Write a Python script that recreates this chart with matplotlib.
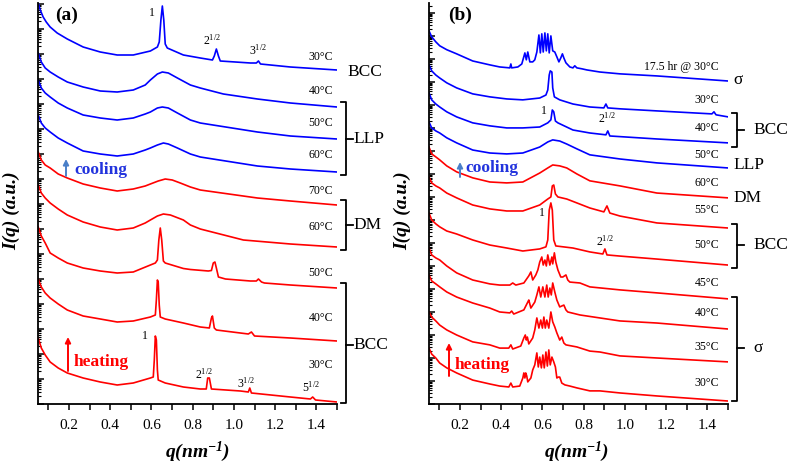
import numpy as np
import matplotlib
matplotlib.use('Agg')
import matplotlib.pyplot as plt
from matplotlib.ticker import LogLocator, NullFormatter, MultipleLocator, FixedFormatter, FixedLocator
from matplotlib.lines import Line2D
from matplotlib.patches import FancyArrowPatch

plt.rcParams['font.family'] = ['Liberation Serif', 'DejaVu Serif']
plt.rcParams['mathtext.fontset'] = 'custom'
plt.rcParams['mathtext.rm'] = 'Liberation Serif'
plt.rcParams['mathtext.it'] = 'Liberation Serif:italic'
plt.rcParams['mathtext.bf'] = 'Liberation Serif:bold:italic'
plt.rcParams['mathtext.default'] = 'regular'

# ---------------- data: q (nm^-1) and log10 I(q) (a.u., curves offset) ----------------
# Panel (a)
A1_Q = [.051,.061,.075,.090,.109,.143,.192,.269,.352,.434,.512,.595,.629,.638,.646,.653,.660,.667,.677,.755,.837,.896,.905,.915,.925,.934,1.080,1.109,1.119,1.129,1.274,1.5]
A1_L = [16.04,15.76,15.48,15.28,15.08,14.84,14.60,14.28,14.08,13.96,13.96,14.12,14.28,14.48,15.36,15.92,15.36,14.40,14.24,13.96,13.84,13.76,13.92,14.20,13.92,13.72,13.64,13.64,13.72,13.60,13.48,13.36]
A2_Q = [.051,.066,.085,.109,.148,.192,.269,.352,.434,.512,.570,.595,.629,.653,.682,.726,.789,.837,.949,1.114,1.274,1.5]
A2_L = [14.04,13.68,13.44,13.28,13.08,12.88,12.68,12.52,12.48,12.56,12.76,12.96,13.20,13.28,13.24,13.04,12.76,12.64,12.40,12.20,12.04,11.88]
A3_Q = [.051,.066,.085,.109,.148,.192,.269,.352,.434,.512,.570,.595,.629,.653,.682,.726,.789,.837,1.114,1.274,1.5]
A3_L = [12.96,12.64,12.44,12.28,12.04,11.84,11.56,11.44,11.36,11.44,11.60,11.68,11.84,11.88,11.84,11.64,11.36,11.24,10.88,10.72,10.60]
A4_Q = [.051,.066,.085,.109,.148,.192,.269,.352,.434,.512,.570,.595,.629,.658,.682,.726,.789,.837,1.114,1.274,1.5]
A4_L = [11.56,11.24,11.04,10.88,10.64,10.44,10.12,10.00,9.92,10.00,10.16,10.24,10.36,10.44,10.40,10.24,10.00,9.88,9.52,9.40,9.28]
A5_Q = [.051,.066,.085,.109,.148,.192,.269,.352,.434,.512,.570,.595,.633,.667,.701,.740,.789,.837,1.114,1.274,1.5]
A5_L = [10.08,9.76,9.56,9.44,9.20,9.04,8.80,8.64,8.52,8.60,8.72,8.80,8.92,9.00,8.96,8.84,8.68,8.56,8.24,8.12,7.96]
A6_Q = [.051,.066,.085,.109,.148,.192,.269,.352,.434,.512,.570,.595,.629,.658,.692,.755,.789,.837,1.046,1.274,1.5]
A6_L = [8.76,8.44,8.24,8.04,7.80,7.56,7.28,7.08,6.96,7.04,7.24,7.36,7.52,7.60,7.56,7.36,7.16,7.00,6.56,6.40,6.28]
A7_Q = [.051,.066,.085,.109,.148,.192,.269,.352,.434,.512,.595,.619,.629,.636,.643,.650,.658,.667,.755,.789,.876,.891,.900,.908,.915,.925,.959,1.080,1.109,1.119,1.134,1.148,1.274,1.5]
A7_L = [7.08,6.72,6.44,6.04,5.84,5.64,5.44,5.32,5.24,5.28,5.56,5.64,5.76,6.56,7.04,6.56,5.72,5.64,5.42,5.38,5.32,5.34,5.64,5.68,5.44,5.08,5.00,4.92,4.92,5.00,4.88,4.84,4.76,4.64]
A8_Q = [.051,.066,.085,.109,.148,.192,.269,.352,.434,.512,.595,.619,.624,.629,.633,.638,.643,.667,.755,.837,.881,.891,.896,.905,.915,1.070,1.085,1.100,1.274,1.5]
A8_L = [5.00,4.68,4.44,4.24,4.00,3.76,3.52,3.40,3.28,3.32,3.48,3.56,4.16,4.96,4.88,3.96,3.48,3.40,3.24,3.08,3.04,3.44,3.52,3.04,2.96,2.80,2.88,2.72,2.64,2.52]
A9_Q = [.051,.066,.085,.109,.148,.192,.269,.352,.434,.512,.595,.609,.614,.619,.624,.629,.633,.667,.755,.837,.866,.873,.881,.891,1.032,1.070,1.077,1.085,1.274,1.371,1.382,1.396,1.5]
A9_L = [2.64,2.24,1.96,1.68,1.44,1.24,1.04,0.88,0.76,0.84,1.04,1.08,1.76,2.72,2.56,1.36,0.96,0.84,0.68,0.60,0.60,1.04,1.04,0.60,0.52,0.48,0.64,0.44,0.28,0.20,0.28,0.16,0.08]

# Panel (b)
B1_Q = [.05,.063,.083,.102,.136,.184,.262,.345,.393,.442,.447,.451,.481,.500,.515,.522,.529,.539,.553,.563,.573,.583,.590,.597,.604,.612,.619,.626,.633,.641,.650,.660,.670,.680,.689,.697,.704,.714,.733,.748,.757,.767,.791,.816,.879,.976,1.155,1.5]
B1_L = [16.22,15.96,15.74,15.57,15.40,15.22,14.91,14.74,14.65,14.61,14.78,14.61,14.65,14.78,15.26,14.96,15.30,14.87,14.87,14.96,15.30,16.04,15.26,16.09,15.30,16.13,15.35,16.09,15.26,16.00,15.35,15.30,15.09,14.87,15.04,15.22,15.04,14.83,14.65,14.61,14.70,14.61,14.57,14.52,14.43,14.35,14.26,14.04]
B2_Q = [.05,.063,.083,.102,.136,.184,.262,.345,.427,.505,.587,.617,.626,.633,.638,.646,.650,.658,.684,.748,.830,.898,.908,.917,.976,1.155,1.422,1.432,1.442,1.5]
B2_L = [14.74,14.48,14.30,14.17,13.96,13.74,13.48,13.35,13.26,13.22,13.30,13.43,13.65,14.30,14.48,14.43,13.74,13.35,13.22,13.04,12.91,12.87,13.04,12.87,12.83,12.74,12.61,12.70,12.57,12.48]
B3_Q = [.05,.063,.083,.102,.136,.184,.262,.345,.427,.505,.587,.626,.641,.648,.655,.663,.675,.748,.830,.908,.917,.927,1.155,1.5]
B3_L = [13.52,13.22,13.04,12.91,12.70,12.48,12.22,12.09,12.00,12.00,12.04,12.22,12.35,12.78,12.70,12.30,12.22,11.91,11.78,11.70,11.87,11.65,11.52,11.35]
B4_Q = [.05,.063,.083,.102,.136,.184,.262,.345,.427,.505,.587,.626,.650,.684,.718,.767,.830,.976,1.155,1.5]
B4_L = [12.26,12.00,11.87,11.78,11.57,11.35,11.04,10.91,10.87,10.91,11.17,11.39,11.48,11.43,11.30,11.09,10.83,10.65,10.48,10.26]
B5_Q = [.05,.063,.083,.102,.136,.184,.262,.345,.427,.505,.587,.626,.650,.684,.718,.767,.830,.976,1.155,1.5]
B5_L = [11.17,10.87,10.74,10.61,10.35,10.09,9.83,9.65,9.61,9.65,10.04,10.26,10.39,10.35,10.26,10.00,9.70,9.48,9.17,8.96]
B6_Q = [.05,.063,.083,.102,.136,.184,.262,.345,.427,.505,.587,.626,.641,.648,.655,.663,.675,.718,.767,.830,.898,.913,.927,.976,1.155,1.5]
B6_L = [9.87,9.61,9.48,9.39,9.17,8.96,8.65,8.48,8.39,8.39,8.65,8.91,9.00,9.48,9.52,9.13,9.00,8.91,8.74,8.52,8.35,8.61,8.30,8.17,7.87,7.65]
B7_Q = [.05,.063,.083,.102,.136,.184,.262,.345,.427,.505,.587,.617,.626,.633,.641,.648,.655,.665,.748,.830,.893,.903,.913,.976,1.155,1.5]
B7_L = [8.30,8.00,7.83,7.70,7.52,7.39,7.13,6.91,6.78,6.65,6.74,6.83,7.13,8.43,8.74,8.43,7.13,6.87,6.78,6.61,6.52,6.74,6.48,6.43,6.30,6.04]
B8_Q = [.05,.063,.083,.102,.136,.184,.262,.345,.393,.442,.456,.471,.510,.534,.544,.553,.568,.578,.587,.597,.604,.612,.619,.626,.636,.646,.650,.658,.665,.675,.689,.699,.714,.723,.733,.782,.830,.976,1.155,1.5]
B8_L = [6.78,6.48,6.35,6.26,6.00,5.70,5.39,5.22,5.17,5.17,5.26,5.17,5.26,5.57,5.74,5.39,5.61,5.83,6.17,6.39,6.04,6.26,6.00,6.48,6.04,6.39,6.09,6.57,6.17,5.83,5.52,5.52,5.61,5.39,5.30,5.26,5.09,4.96,4.83,4.57]
B9_Q = [.05,.063,.083,.102,.136,.184,.262,.345,.393,.442,.451,.461,.510,.529,.534,.544,.563,.573,.583,.592,.602,.612,.621,.628,.636,.643,.650,.660,.670,.684,.694,.704,.714,.723,.782,.879,.976,1.155,1.5]
B9_L = [5.61,5.35,5.22,5.09,4.87,4.65,4.39,4.17,4.00,3.96,4.04,3.91,4.09,4.43,4.52,4.17,4.43,4.74,5.09,4.65,5.09,4.65,5.17,4.65,5.04,4.74,5.26,4.87,4.52,4.22,4.26,4.30,4.09,4.00,3.87,3.74,3.61,3.52,3.26]
B10_Q = [.05,.063,.083,.102,.136,.184,.262,.345,.393,.437,.447,.456,.495,.510,.517,.522,.527,.534,.553,.563,.573,.583,.592,.600,.607,.614,.621,.631,.641,.650,.660,.670,.684,.694,.704,.714,.767,.830,.879,.976,1.155,1.5]
B10_L = [4.00,3.78,3.61,3.43,3.22,3.00,2.70,2.57,2.43,2.43,2.57,2.39,2.52,2.87,3.00,2.78,2.91,2.61,2.87,3.22,3.74,3.30,3.65,3.30,3.78,3.30,3.65,3.30,4.00,3.57,3.35,3.09,2.78,2.91,2.65,2.57,2.48,2.30,2.26,2.09,2.00,1.83]
B11_Q = [.05,.063,.083,.102,.136,.184,.262,.345,.393,.437,.447,.456,.490,.505,.510,.515,.519,.524,.529,.544,.553,.563,.573,.580,.587,.595,.602,.609,.617,.624,.631,.638,.646,.655,.663,.670,.677,.684,.694,.709,.733,.767,.830,.879,.976,1.155,1.5]
B11_L = [2.43,2.17,2.00,1.78,1.57,1.35,1.04,0.87,0.78,0.74,0.91,0.74,0.78,1.13,1.35,1.13,1.35,1.22,0.96,1.13,1.48,1.70,2.22,1.61,2.04,1.57,2.13,1.57,2.26,1.65,2.35,1.70,2.04,1.83,1.61,1.13,1.17,1.17,0.91,0.83,0.78,0.70,0.57,0.57,0.48,0.35,0.13]

A_CURVES = [(A1_Q, A1_L, 'b'), (A2_Q, A2_L, 'b'), (A3_Q, A3_L, 'b'), (A4_Q, A4_L, 'b'),
            (A5_Q, A5_L, 'r'), (A6_Q, A6_L, 'r'), (A7_Q, A7_L, 'r'), (A8_Q, A8_L, 'r'), (A9_Q, A9_L, 'r')]
B_CURVES = [(B1_Q, B1_L, 'b'), (B2_Q, B2_L, 'b'), (B3_Q, B3_L, 'b'), (B4_Q, B4_L, 'b'),
            (B5_Q, B5_L, 'r'), (B6_Q, B6_L, 'r'), (B7_Q, B7_L, 'r'), (B8_Q, B8_L, 'r'),
            (B9_Q, B9_L, 'r'), (B10_Q, B10_L, 'r'), (B11_Q, B11_L, 'r')]

A_TEMPS = ['30°C', '40°C', '50°C', '60°C', '70°C', '60°C', '50°C', '40°C', '30°C']
B_TEMPS = ['17.5 hr @ 30°C', '30°C', '40°C', '50°C', '60°C', '55°C', '50°C', '45°C', '40°C', '35°C', '30°C']
XTICKS = [0.2, 0.4, 0.6, 0.8, 1.0, 1.2, 1.4]
XTICK_LABELS = ['0.2', '0.4', '0.6', '0.8', '1.0', '1.2', '1.4']

COLORS = {'b': '#0000ff', 'r': '#ff0000'}
W, H = 789, 466

fig = plt.figure(figsize=(W / 100, H / 100), dpi=100)


def fx(x):
    return x / W


def fy(y):
    return 1 - y / H


def make_axes(left_px, right_px, ytop_dec):
    ax = fig.add_axes([fx(left_px), fy(404), (right_px - left_px) / W, (404 - 3) / H])
    ax.set_yscale('log')
    ax.set_xlim(0.05, 1.5)
    ax.set_ylim(1, 10 ** ytop_dec)
    for s in ['top', 'right']:
        ax.spines[s].set_visible(False)
    for s in ['left', 'bottom']:
        ax.spines[s].set_linewidth(1.3)
    ax.xaxis.set_major_locator(FixedLocator(XTICKS))
    ax.xaxis.set_major_formatter(FixedFormatter(XTICK_LABELS))
    ax.xaxis.set_minor_locator(MultipleLocator(0.1))
    ax.tick_params(axis='x', which='both', direction='out', length=4, width=1.1,
                   labelsize=11, pad=7)
    ax.yaxis.set_major_locator(LogLocator(base=10, numticks=100))
    ax.yaxis.set_minor_locator(LogLocator(base=10, subs=np.arange(2, 10) * 1.0, numticks=100))
    ax.yaxis.set_major_formatter(NullFormatter())
    ax.yaxis.set_minor_formatter(NullFormatter())
    ax.tick_params(axis='y', which='major', direction='in', length=4.5, width=1.1)
    ax.tick_params(axis='y', which='minor', direction='in', length=2.5, width=0.8)
    return ax


axA = make_axes(38, 337, 16.04)
axB = make_axes(429, 728, 17.43)

for q, L, c in A_CURVES:
    axA.plot(q, 10 ** np.array(L), color=COLORS[c], lw=1.2)
for q, L, c in B_CURVES:
    axB.plot(q, 10 ** np.array(L), color=COLORS[c], lw=1.2)


def ftext(x, y, s, **kw):
    fig.text(fx(x), fy(y), s, **kw)


def bracket(x, ytop, ybot, ymid, label, tx=None):
    kw = dict(color='black', lw=1.3, transform=fig.transFigure)
    fig.add_artist(Line2D([fx(x - 5), fx(x), fx(x), fx(x - 5)], [fy(ytop), fy(ytop), fy(ybot), fy(ybot)], **kw))
    fig.add_artist(Line2D([fx(x), fx(x + 7)], [fy(ymid), fy(ymid)], **kw))
    ftext(x + 7 if tx is None else tx, ymid, label, ha='left', va='center', fontsize=12.5)


def arrow(x, y0, y1, color):
    fig.add_artist(FancyArrowPatch((fx(x), fy(y0)), (fx(x), fy(y1)), transform=fig.transFigure,
                                   arrowstyle='-|>', mutation_scale=8, lw=1.4, color=color,
                                   shrinkA=0, shrinkB=0))


# temperature labels
tsize = 8.5
for s, y in zip(A_TEMPS, [57, 91, 123, 155, 191, 227, 273, 318, 365]):
    ftext(333, y, s, ha='right', va='center', fontsize=tsize)
for s, y in zip(B_TEMPS, [67, 100, 128, 155, 183, 210, 245, 283, 313, 347, 383]):
    ftext(719, y, s, ha='right', va='center', fontsize=tsize)

# peak index labels
psize = 8.5
ftext(152, 13, '1', ha='center', va='center', fontsize=psize)
ftext(212, 40, '2$^{1/2}$', ha='center', va='center', fontsize=psize)
ftext(258, 50, '3$^{1/2}$', ha='center', va='center', fontsize=psize)
ftext(145, 336, '1', ha='center', va='center', fontsize=psize)
ftext(204, 374, '2$^{1/2}$', ha='center', va='center', fontsize=psize)
ftext(246, 383, '3$^{1/2}$', ha='center', va='center', fontsize=psize)
ftext(311, 387, '5$^{1/2}$', ha='center', va='center', fontsize=psize)
ftext(544, 111, '1', ha='center', va='center', fontsize=psize)
ftext(607, 118, '2$^{1/2}$', ha='center', va='center', fontsize=psize)
ftext(542, 213, '1', ha='center', va='center', fontsize=psize)
ftext(605, 241, '2$^{1/2}$', ha='center', va='center', fontsize=psize)

# phase labels (a)
ftext(347, 72, 'BCC', ha='left', va='center', fontsize=12.5)
bracket(346, 102, 175, 139, 'LLP')
bracket(346, 200, 250, 225, 'DM')
bracket(346, 283, 403, 345, 'BCC')
# phase labels (b)
ftext(733, 80, 'σ', ha='left', va='center', fontsize=12.5)
bracket(737, 113, 147, 130, 'BCC', tx=753)
ftext(733, 165, 'LLP', ha='left', va='center', fontsize=12.5)
ftext(733, 198, 'DM', ha='left', va='center', fontsize=12.5)
bracket(737, 224, 268, 245, 'BCC', tx=753)
bracket(737, 297, 401, 348, 'σ', tx=753)

# arrows and process labels
BLUE_T = '#2233dd'
BLUE_A = '#4a7fc8'
RED = '#ff0000'
arrow(66, 176, 159, BLUE_A)
ftext(74, 170, 'cooling', ha='left', va='center', fontsize=12.5, fontweight='bold', color=BLUE_T)
arrow(68, 371, 337, RED)
ftext(74, 362, 'heating', ha='left', va='center', fontsize=12.5, fontweight='bold', color=RED)
arrow(460, 177, 162, BLUE_A)
ftext(465, 168, 'cooling', ha='left', va='center', fontsize=12.5, fontweight='bold', color=BLUE_T)
arrow(449, 376, 343, RED)
ftext(455, 365, 'heating', ha='left', va='center', fontsize=12.5, fontweight='bold', color=RED)

# panel labels
ftext(55, 15, '(a)', ha='left', va='center', fontsize=14, fontweight='bold')
ftext(448, 15, '(b)', ha='left', va='center', fontsize=14, fontweight='bold')

# axis labels
for x in (12, 403):
    ftext(x, 211, 'I(q) (a.u.)', ha='center', va='center', rotation=90, fontsize=14,
          fontweight='bold', fontstyle='italic')
for x in (198, 577):
    ftext(x, 452, r'$\mathbf{q(nm^{-1})}$', ha='center', va='center', fontsize=14)

fig.savefig('out.png', dpi=100)
